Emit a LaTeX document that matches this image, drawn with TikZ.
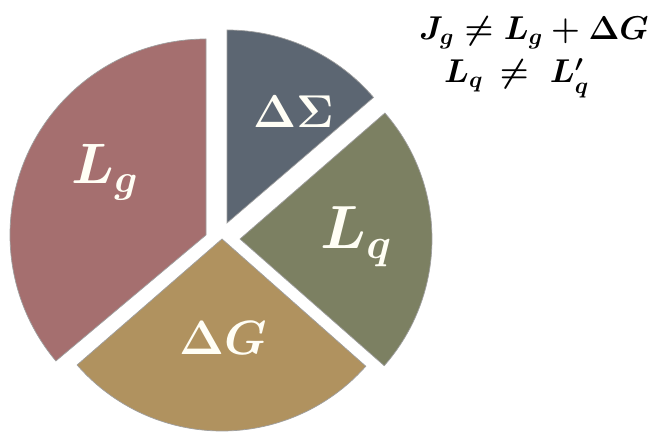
\RequirePackage{fix-cm}
\documentclass[tikz,border=0pt]{standalone}
\definecolor{lgcol}{RGB}{165,111,111}
\definecolor{dscol}{RGB}{92,102,114}
\definecolor{lqcol}{RGB}{124,128,98}
\definecolor{dgcol}{RGB}{176,146,95}
\tikzset{
  slice/.style={draw=gray!75, line width=0.7pt},
  pielabel/.style={text=white!96!yellow, inner sep=0pt, anchor=base west},
  eqlabel/.style={text=black, inner sep=0pt, anchor=base west, font=\fontsize{33}{36}\selectfont\boldmath},
}
\begin{document}
\begin{tikzpicture}[x=1pt,y=1pt]
\useasboundingbox (0,0) rectangle (662,436);
% slices: apex, start angle, end angle, radius
\coordinate (lgapex) at (206,201);
\coordinate (dsapex) at (227,213);
\coordinate (lqapex) at (240,197);
\coordinate (dgapex) at (222,197);
\filldraw[slice, fill=lgcol] (lgapex) -- ++(90:196) arc[start angle=90, end angle=220, radius=196] -- cycle;
\filldraw[slice, fill=dscol] (dsapex) -- ++(40.6:193) arc[start angle=40.6, end angle=90, radius=193] -- cycle;
\filldraw[slice, fill=lqcol] (lqapex) -- ++(-41.3:192) arc[start angle=-41.3, end angle=41, radius=192] -- cycle;
\filldraw[slice, fill=dgcol] (dgapex) -- ++(221:192) arc[start angle=221, end angle=318.5, radius=192] -- cycle;
% labels
\node[pielabel, font=\fontsize{57}{60}\selectfont\boldmath] (lg) at (71,252) {$L_g$};
\node[pielabel, font=\fontsize{46}{50}\selectfont\boldmath] (ds) at (253,308) {$\Delta\Sigma$};
\node[pielabel, font=\fontsize{61}{64}\selectfont\boldmath] (lq) at (320,187) {$L_q$};
\node[pielabel, font=\fontsize{48}{50}\selectfont\boldmath] (dg) at (179,81) {$\Delta G$};
% equations
\node[eqlabel] (eq1) at (419,396) {$J_g \neq L_g + \Delta G$};
\node[eqlabel] (eq2) at (444,353) {$L_q\,\neq\;L'_q$};
\end{tikzpicture}
\end{document}
